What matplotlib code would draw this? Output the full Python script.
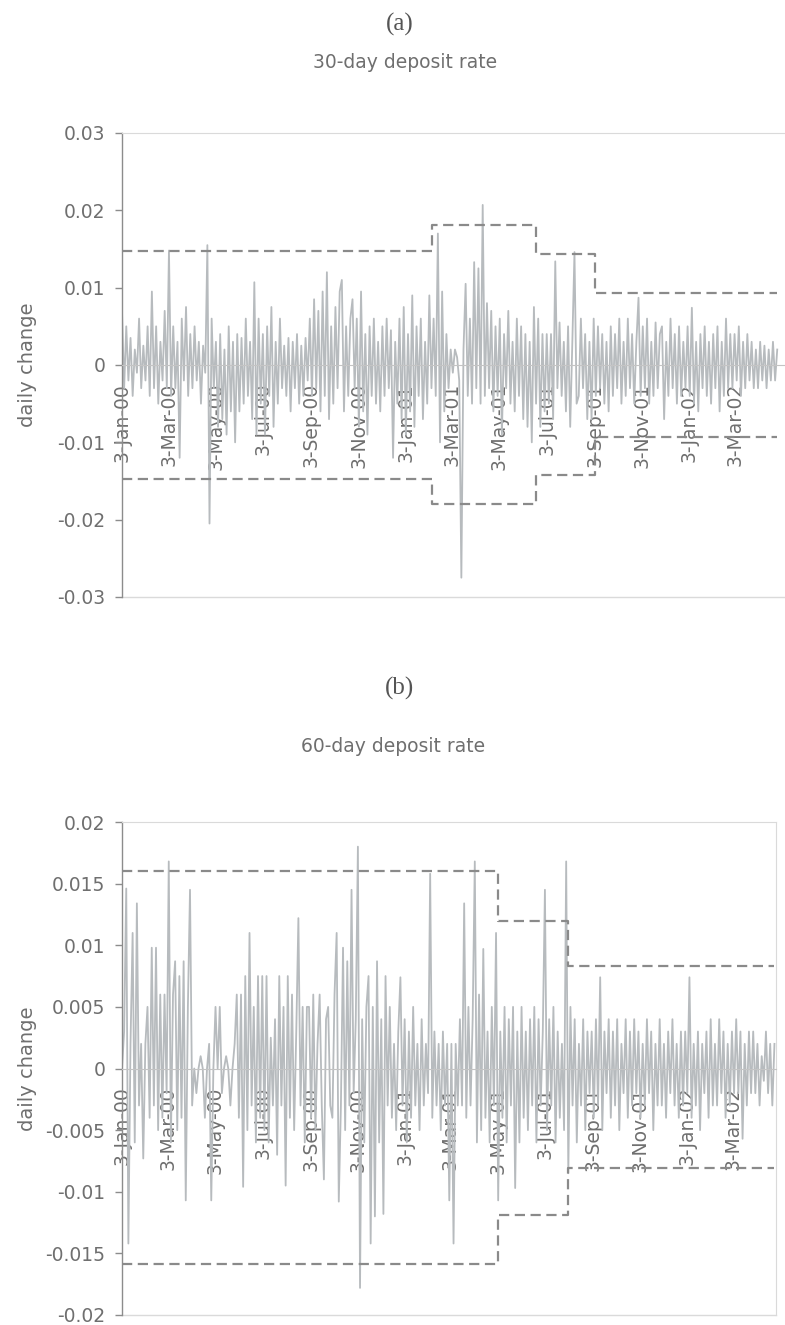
import numpy as np
import pandas as pd
import matplotlib
matplotlib.use("Agg")
import matplotlib.pyplot as plt
import matplotlib.dates as mdates

# ---------------- data ----------------
series_start = "2000-01-03"
series_end = "2002-04-26"

tick_labels = ["3-Jan-00", "3-Mar-00", "3-May-00", "3-Jul-00", "3-Sep-00", "3-Nov-00",
               "3-Jan-01", "3-Mar-01", "3-May-01", "3-Jul-01", "3-Sep-01", "3-Nov-01",
               "3-Jan-02", "3-Mar-02"]

# 30-day deposit rate, daily change (~every 2nd trading day)
change_30 = [
    .007, -.003, .005, -.002, .0035, -.004, .002, -.001, .006, -.003, .0025,      # Jan-00
    -.002, .005, -.004, .0095, -.003, .005, -.005, .003, -.002, .007, -.003,      # Feb-00
    .0148, -.004, .005, -.003, .003, -.012, .006, -.002, .0075, -.004, .004,      # Mar-00
    -.003, .005, -.002, .003, -.005, .0025, -.001, .0155, -.0205, .006, -.003,    # Apr-00
    .003, -.008, .004, -.007, .002, -.009, .005, -.006, .003, -.010, .004,        # May-00
    -.006, .0035, -.005, .006, -.004, .003, -.007, .0107, -.009, .006, -.005,     # Jun-00
    .004, -.009, .005, -.004, .0075, -.008, .003, -.005, .006, -.003, .0025,      # Jul-00
    -.004, .0035, -.006, .003, -.003, .004, -.005, .0025, -.004, .0035, -.002,    # Aug-00
    .006, -.004, .0085, -.003, .007, -.006, .0095, -.004, .012, -.007, .005,      # Sep-00
    -.005, .0075, -.003, .0095, .011, -.006, .005, -.004, .006, .0085, -.003,     # Oct-00
    .006, -.008, .0095, -.006, .004, -.009, .005, -.004, .006, -.005, .003,       # Nov-00
    -.006, .005, -.004, .006, -.003, .0045, -.012, .003, -.005, .006, -.007,      # Dec-00
    .0075, -.009, .004, -.006, .009, -.008, .005, -.004, .006, -.007, .003,       # Jan-01
    -.005, .009, -.003, .006, -.004, .017, -.010, .0095, -.006, .004, -.003,      # Feb-01
    .002, -.001, .002, .001, -.002, -.0275, .002, .0105, -.004, .006, -.005,      # Mar-01
    .0133, -.003, .0125, -.005, .0207, -.004, .008, -.003, .007, -.006, .005,     # Apr-01
    -.004, .006, -.009, .004, -.003, .007, -.005, .003, -.006, .006, -.004,       # May-01
    .005, -.007, .004, -.008, .003, -.010, .0075, -.005, .006, -.008, .004,       # Jun-01
    -.006, .004, -.005, .004, -.007, .0134, -.003, .0055, -.004, .003, -.006,     # Jul-01
    .005, -.008, .003, .0146, -.005, -.004, .006, -.003, .004, -.007, .003,       # Aug-01
    -.007, .006, -.004, .005, -.003, .004, -.005, .003, -.006, .005, -.004,       # Sep-01
    .004, -.003, .006, -.005, .003, -.004, .006, -.003, .004, -.005, .003,        # Oct-01
    .0087, -.004, .005, -.003, .006, -.005, .003, -.004, .0055, -.003, .004,      # Nov-01
    .005, -.007, .003, -.004, .006, -.003, .004, -.005, .005, -.004, .003,        # Dec-01
    -.003, .005, -.004, .0074, -.005, .003, -.006, .004, -.003, .005, -.004,      # Jan-02
    .003, -.005, .004, -.003, .005, -.006, .003, -.004, .006, -.003, .004,        # Feb-02
    -.003, .004, -.002, .005, -.004, .003, -.003, .004, -.002, .003, -.003,       # Mar-02
    .002, -.003, .003, -.002, .0025, -.003, .002, -.002, .003, -.002, .002,       # Apr-02
]

# 60-day deposit rate, daily change
change_60 = [
    0, .003, .0146, -.0142, .002, .011, -.006, .0134, -.003, .002, -.0073,        # Jan-00
    .002, .005, -.004, .0098, -.003, .0098, -.005, .006, -.004, .006, -.002,      # Feb-00
    .0168, -.006, .006, .0087, -.005, .0075, -.004, .0087, -.0107, .005, .0145,   # Mar-00
    -.003, 0, -.002, 0, .001, 0, -.004, 0, .002, -.0107, 0,                       # Apr-00
    .005, 0, .005, -.002, 0, .001, 0, -.003, 0, .002, .006,                       # May-00
    -.004, .006, -.0096, .0075, -.005, .011, -.003, .005, -.006, .0075, -.004,    # Jun-00
    .0075, -.005, .0075, -.006, .0025, -.003, .004, -.007, .0075, -.003, .005,    # Jul-00
    -.0095, .0075, -.004, .006, -.005, .003, .0122, -.003, .005, -.006, .005,     # Aug-00
    .005, -.004, .006, -.005, .002, .006, -.003, -.009, .004, .005, -.003,        # Sep-00
    -.004, .006, .011, -.0108, -.003, .0098, -.005, .0087, -.003, .0145, -.002,   # Oct-00
    .004, .018, -.0178, .004, -.006, .005, .0075, -.0142, .005, -.012, .0087,     # Nov-00
    -.006, .004, -.0118, .0075, -.003, .005, -.004, .002, -.005, .003, .0074,     # Dec-00
    -.003, .004, -.006, .003, -.004, .005, -.003, .002, -.005, .004, -.003,       # Jan-01
    .002, -.002, .0158, -.004, .003, -.003, .002, -.005, .003, -.003, .002,       # Feb-01
    -.0107, .002, -.0142, .002, -.003, .004, -.003, .0134, -.004, .005, -.003,    # Mar-01
    .004, .0168, -.006, .006, -.005, .0097, -.004, .003, -.006, .005, -.003,      # Apr-01
    .011, -.0107, .003, -.004, .005, -.006, .004, -.003, .005, -.0097, .003,      # May-01
    -.006, .005, -.004, .003, -.005, .004, -.003, .005, -.006, .004, -.003,       # Jun-01
    .003, .0145, -.005, .004, -.003, .005, -.006, .003, -.004, .002, -.005,       # Jul-01
    .0168, -.0085, .005, -.003, .004, -.006, .002, -.003, .004, -.005, .003,      # Aug-01
    -.002, .003, -.004, .004, -.003, .0074, -.005, .003, -.002, .004, -.004,      # Sep-01
    .003, -.003, .004, -.005, .002, -.002, .004, -.004, .003, -.003, .004,        # Oct-01
    -.002, .003, -.004, .002, -.003, .004, -.002, .003, -.005, .002, -.003,       # Nov-01
    .004, -.003, .002, -.004, .003, -.002, .004, -.003, .002, -.004, .003,        # Dec-01
    -.003, .003, -.002, .0074, -.004, .002, -.003, .003, -.005, .002, -.002,      # Jan-02
    .003, -.004, .004, -.003, .002, -.003, .004, -.002, .003, -.004, .002,        # Feb-02
    -.003, .003, -.002, .004, -.002, .003, -.0057, .002, -.003, .003, -.002,      # Mar-02
    .003, -.002, .002, -.003, .001, -.001, .003, -.002, .002, -.003, .002,        # Apr-02
]

# threshold bands (dashed), start date of each regime
band_30_dates = ["2000-01-03", "2001-02-05", "2001-06-19", "2001-09-03"]
band_30_upper = [0.0148, 0.0181, 0.0143, 0.0093]
band_30_lower = [-0.0148, -0.0180, -0.0142, -0.0093]

band_60_dates = ["2000-01-03", "2001-05-04", "2001-08-02"]
band_60_upper = [0.0160, 0.0120, 0.0083]
band_60_lower = [-0.0159, -0.0119, -0.0081]

yticks_30 = [0.03, 0.02, 0.01, 0, -0.01, -0.02, -0.03]
ylabels_30 = ["0.03", "0.02", "0.01", "0", "-0.01", "-0.02", "-0.03"]
yticks_60 = [0.02, 0.015, 0.01, 0.005, 0, -0.005, -0.01, -0.015, -0.02]
ylabels_60 = ["0.02", "0.015", "0.01", "0.005", "0", "-0.005", "-0.01", "-0.015", "-0.02"]

# ---------------- style ----------------
W, H = 785, 1325
TXT = "#6f6f6f"
SER = "#b7bbbe"
DASH = "#8a8a8a"
BORDER = "#dadada"

plt.rcParams["font.family"] = ["DejaVu Sans"]

fig = plt.figure(figsize=(W / 100, H / 100), dpi=100)
fig.patch.set_facecolor("white")

axA = fig.add_axes([122 / W, 1 - 597 / H, 1 - 122 / W, (597 - 133) / H])
axB = fig.add_axes([122 / W, 1 - 1315 / H, (776 - 122) / W, (1315 - 822) / H])

tick_pos = mdates.date2num(pd.to_datetime(tick_labels, format="%d-%b-%y"))


def draw(ax, values, bdates, bup, blo, yticks, ylabels, ylim, xend, right_border):
    x = mdates.date2num(pd.date_range(series_start, series_end, periods=len(values)))
    ax.plot(x, values, color=SER, lw=1.3, zorder=2)

    bx = list(mdates.date2num(pd.to_datetime(bdates))) + [mdates.date2num(pd.Timestamp(series_end))]
    for lev in (bup, blo):
        ax.step(bx, list(lev) + [lev[-1]], where="post", color=DASH, lw=1.6,
                dashes=(4.6, 2.5), zorder=3)

    x0 = mdates.date2num(pd.Timestamp(series_start))
    x1 = mdates.date2num(pd.Timestamp(xend))
    ax.set_xlim(x0, x1)
    ax.set_ylim(*ylim)

    ax.spines["left"].set_color("#8c8c8c")
    ax.spines["left"].set_linewidth(1.0)
    ax.spines["top"].set_color(BORDER)
    ax.spines["right"].set_color(BORDER)
    ax.spines["right"].set_visible(right_border)
    ax.spines["bottom"].set_position(("data", 0))
    ax.spines["bottom"].set_color("#c4c4c4")
    ax.axhline(ylim[0], color=BORDER, lw=1.0, clip_on=False, zorder=1)

    ax.set_yticks(yticks)
    ax.set_yticklabels(ylabels)
    ax.tick_params(axis="y", direction="out", length=5, width=1, color="#8c8c8c",
                   labelsize=13.5, labelcolor=TXT, pad=7)

    ax.set_xticks(tick_pos)
    ax.set_xticklabels(tick_labels, rotation=90, ha="center", va="top")
    ax.tick_params(axis="x", length=0, labelsize=13.5, labelcolor=TXT, pad=13)

    ax.set_ylabel("daily change", fontsize=14, color=TXT)


draw(axA, change_30, band_30_dates, band_30_upper, band_30_lower,
     yticks_30, ylabels_30, (-0.03, 0.03), "2002-05-06", False)
axA.yaxis.set_label_coords((37 - 122) / 663, 0.5)

draw(axB, change_60, band_60_dates, band_60_upper, band_60_lower,
     yticks_60, ylabels_60, (-0.02, 0.02), "2002-04-28", True)
axB.yaxis.set_label_coords((37 - 122) / 654, 0.5)

# panel letters and titles
fig.text(400 / W, 1 - 24 / H, "(a)", ha="center", va="center",
         fontsize=18, color="#555555", family="Liberation Serif")
fig.text(405 / W, 1 - 62 / H, "30-day deposit rate", ha="center", va="center",
         fontsize=13.5, color=TXT)
fig.text(399 / W, 1 - 688 / H, "(b)", ha="center", va="center",
         fontsize=18, color="#555555", family="Liberation Serif")
fig.text(393 / W, 1 - 746 / H, "60-day deposit rate", ha="center", va="center",
         fontsize=13.5, color=TXT)

fig.savefig("out.png", dpi=100, facecolor="white")
